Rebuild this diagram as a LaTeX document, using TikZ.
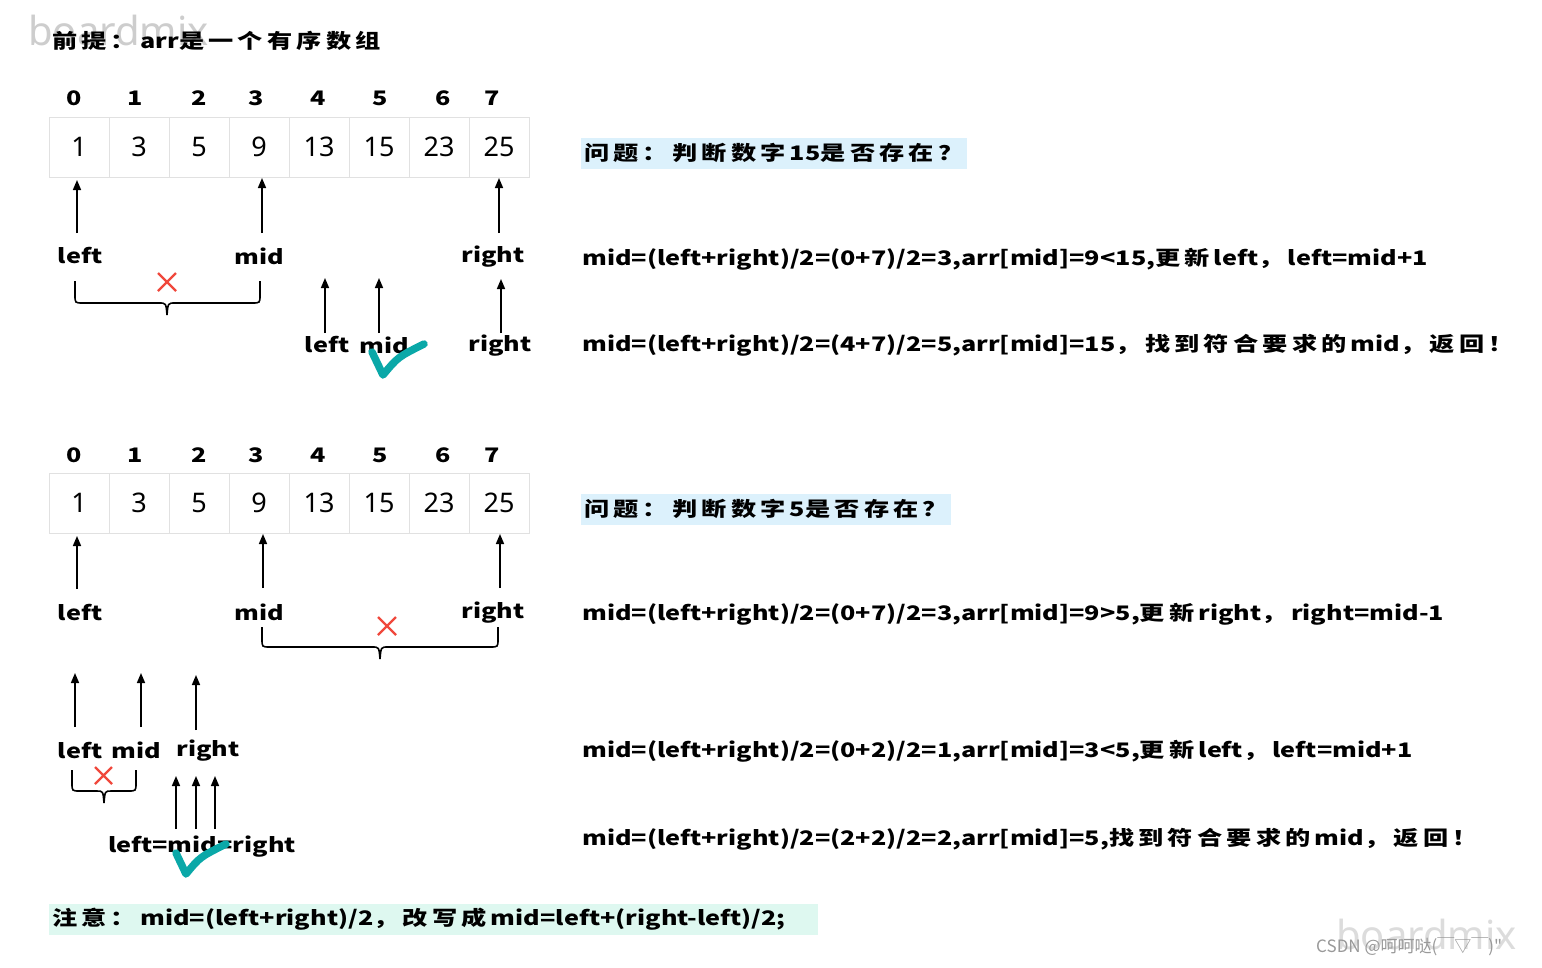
\documentclass[tikz,border=0pt]{standalone}
\usepackage{fontspec}
\setmainfont{Noto Sans}
\newfontfamily\hand[FakeStretch=1.26]{Noto Sans CJK SC}
\newfontfamily\cjk{Noto Sans CJK SC}
\usetikzlibrary{arrows.meta}
\definecolor{qblue}{RGB}{220,241,252}
\definecolor{nmint}{RGB}{222,248,240}
\definecolor{xred}{RGB}{240,72,60}
\definecolor{okteal}{RGB}{10,168,168}
\definecolor{cellline}{RGB}{225,225,225}
\definecolor{wmark}{RGB}{205,205,205}
% extra spacing after CJK characters (handwritten CJK glyphs are wider)
\newXeTeXintercharclass\cjkcls
\count255="4E00
\loop\XeTeXcharclass\count255=\cjkcls\advance\count255 by 1 \ifnum\count255<"A000 \repeat
\count255="FF01
\loop\XeTeXcharclass\count255=\cjkcls\advance\count255 by 1 \ifnum\count255<"FF20 \repeat
\XeTeXinterchartoks\cjkcls\cjkcls={\kern.21em}
\XeTeXinterchartoks\cjkcls 0={\kern.21em}
\newcommand\handtext{\hand\bfseries\fontsize{20}{24}\selectfont\XeTeXinterchartokenstate=1 }
\begin{document}
\begin{tikzpicture}[x=1pt,y=-1pt,
  cell/.style={draw=cellline,line width=1,minimum width=60,minimum height=60,inner sep=0,font=\fontsize{27}{30}\selectfont},
  hw/.style={inner sep=0,font=\handtext},
  txt/.style={hw,anchor=west},
  idx/.style={hw},
  arr/.style={line width=1.6,-{Triangle[length=10pt,width=8pt]}},
  brc/.style={line width=1.6},
  cross/.style={xred,line width=2.2},
  tick/.style={okteal,line width=7.5,line cap=round,line join=round},
  wm/.style={inner sep=0,text=wmark,font=\fontsize{40}{44}\selectfont}
]
\useasboundingbox (0,0) rectangle (1542,967);
\fill[white] (0,0) rectangle (1542,967);

% watermark top-left
\node[wm,anchor=west] (wm1) at (28,30) {boardmix};
% title
\node[txt] (title) at (52,41) {前提：arr是一个有序数组};

% ===== first array =====
\foreach \v/\i/\ix in {1/0/74,3/1/135,5/2/199,9/3/256,13/4/318,15/5/380,23/6/443,25/7/492}{
  \node[cell] (a\i) at ({79+60*\i},147) {\v};
  \node[idx] (ia\i) at (\ix,98) {\i};
}
\node[hw] (l1) at (80,256) {left};
\node[hw] (m1) at (259,256) {mid};
\node[hw] (r1) at (493,257) {right};
\draw[arr] (77,233) -- (77,180);
\draw[arr] (262,233) -- (262,178);
\draw[arr] (499,233) -- (499,178);
% brace 1
\draw[brc] (75,281) -- (75,295) .. controls (75,303) .. (83,303) -- (159,303) .. controls (166,303) .. (167,315) .. controls (168,303) .. (175,303) -- (252,303) .. controls (260,303) .. (260,295) -- (260,281);
\draw[cross] (158,273) -- (176,291) (176,273) -- (158,291);

\coordinate (t1l) at (325,278);
\coordinate (t1m) at (379,278);
\coordinate (t1r) at (501,279);
\node[hw] (l2) at (327,345) {left};
\node[hw] (m2) at (384,345) {mid};
\node[hw] (r2) at (500,346) {right};
\draw[arr] (325,333) -- (t1l);
\draw[arr] (379,333) -- (t1m);
\draw[arr] (501,333) -- (t1r);
\draw[tick] (372,352) -- (383,375) .. controls (398,357) .. (424,344);

% right texts 1
\node[txt,fill=qblue,minimum height=31,inner xsep=3] (q1) at (581,153) {问题：判断数字15是否存在？};
\node[txt] (s1) at (582,259) {mid=(left+right)/2=(0+7)/2=3,arr[mid]=9<15,更新left，left=mid+1};
\node[txt] (s2) at (582,345) {mid=(left+right)/2=(4+7)/2=5,arr[mid]=15，找到符合要求的mid，返回！};

% ===== second array =====
\foreach \v/\i/\ix in {1/0/74,3/1/135,5/2/199,9/3/256,13/4/318,15/5/380,23/6/443,25/7/492}{
  \node[cell] (b\i) at ({79+60*\i},503) {\v};
  \node[idx] (ib\i) at (\ix,455) {\i};
}
\node[hw] (l3) at (80,612) {left};
\node[hw] (m3) at (259,612) {mid};
\node[hw] (r3) at (493,613) {right};
\draw[arr] (77,589) -- (77,536);
\draw[arr] (263,588) -- (263,534);
\draw[arr] (500,588) -- (500,534);
% brace 2
\draw[brc] (262,627) -- (262,639) .. controls (262,647) .. (270,647) -- (372,647) .. controls (379,647) .. (380,659) .. controls (381,647) .. (388,647) -- (490,647) .. controls (498,647) .. (498,639) -- (498,627);
\draw[cross] (378,617) -- (396,635) (396,617) -- (378,635);

\node[txt,fill=qblue,minimum height=31,inner xsep=3] (q2) at (581,509) {问题：判断数字5是否存在？};
\node[txt] (s3) at (582,614) {mid=(left+right)/2=(0+7)/2=3,arr[mid]=9>5,更新right，right=mid-1};

% third step
\node[hw] (l4) at (80,750) {left};
\node[hw] (m4) at (136,750) {mid};
\node[hw] (r4) at (208,751) {right};
\coordinate (t3l) at (75,673);
\coordinate (t3m) at (141,673);
\coordinate (t3r) at (196,675);
\draw[arr] (75,727) -- (t3l);
\draw[arr] (141,727) -- (t3m);
\draw[arr] (196,730) -- (t3r);
\draw[brc] (72,770) -- (72,783) .. controls (72,791) .. (80,791) -- (97,791) .. controls (103,791) .. (104,803) .. controls (105,791) .. (111,791) -- (128,791) .. controls (136,791) .. (136,783) -- (136,770);
\draw[cross] (95,767) -- (112,784) (112,767) -- (95,784);
\node[txt] (s4) at (582,751) {mid=(left+right)/2=(0+2)/2=1,arr[mid]=3<5,更新left，left=mid+1};

% fourth step
\coordinate (t4a) at (176,776);
\coordinate (t4b) at (196,776);
\coordinate (t4c) at (215,776);
\node[hw] (e4) at (202,847) {left=mid=right};
\draw[arr] (176,829) -- (t4a);
\draw[arr] (196,829) -- (t4b);
\draw[arr] (215,829) -- (t4c);
\draw[tick] (176,853) -- (186,874) .. controls (200,857) .. (226,844);
\node[txt] (s5) at (582,839) {mid=(left+right)/2=(2+2)/2=2,arr[mid]=5,找到符合要求的mid，返回！};

% note
\node[txt,fill=nmint,minimum height=31,inner xsep=3,text width=763,align=left] (note) at (49,919) {注意：mid=(left+right)/2，改写成mid=left+(right-left)/2;};

% bottom-right watermarks
\node[wm,anchor=west,text=wmark!70] (wm2) at (1336,934) {boardmix};
\node[anchor=west,inner sep=0,text=gray!80,font=\cjk\fontsize{17}{19}\selectfont] (csdn) at (1316,947) {CSDN @呵呵哒(￣▽￣)"};
\end{tikzpicture}
\end{document}
